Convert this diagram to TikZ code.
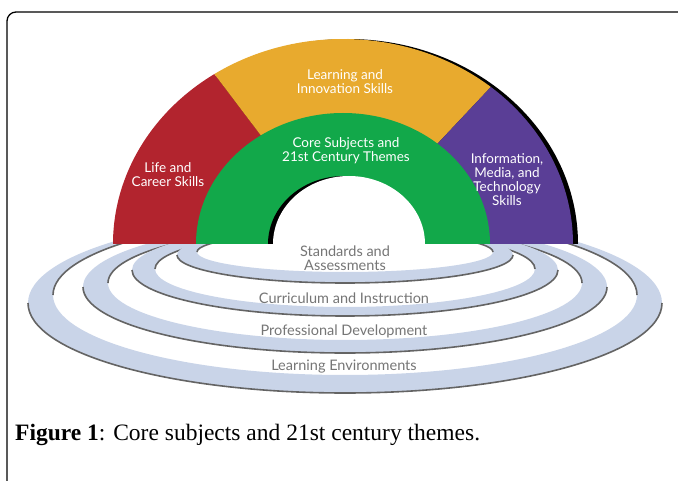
\documentclass[tikz,border=0pt]{standalone}
\usepackage{fontspec}
\setmainfont{Liberation Serif}
\newfontfamily\gillfont{Lato}

\definecolor{lifered}{RGB}{178,36,46}
\definecolor{learnyellow}{RGB}{232,170,46}
\definecolor{coregreen}{RGB}{18,168,74}
\definecolor{infopurple}{RGB}{90,62,150}
\definecolor{ringblue}{RGB}{201,212,232}
\definecolor{ringedge}{RGB}{100,100,100}
\definecolor{ringtext}{RGB}{118,118,118}

\begin{document}
\begin{tikzpicture}
  [x=1pt,y=1pt,
   arclabel/.style={text=white,align=center,inner sep=0pt,font=\gillfont\fontsize{13.5}{14}\selectfont},
   ringlabel/.style={text=ringtext,align=center,inner sep=0pt,font=\gillfont\fontsize{14.5}{14}\selectfont},
   ringline/.style={ringedge,line width=1.6pt}] % sizes are read off the 678x480 picture, y counted from the bottom

  \clip (0,0) rectangle (678,480);
  \fill[white] (0,0) rectangle (678,480);

  % the four flat rings, only the part in front of the arch
  \begin{scope}
    \clip (0,0) rectangle (678,240);
    \foreach \oy/\oa/\ob/\iy/\ia/\ib in {177/317/90/185/292/80, 193/262/66/197/237/57,
                                         210/213/46/211/190/38, 225/168/28/228/148/20}{
      \fill[ringblue,even odd rule] (345,\oy) ellipse[x radius=\oa,y radius=\ob]
                                    (345,\iy) ellipse[x radius=\ia,y radius=\ib];
      \draw[ringline] (345-\oa,\oy) arc[start angle=180,end angle=360,x radius=\oa,y radius=\ob];
      \draw[ringline] (345+\ia,\iy) arc[start angle=0,end angle=180,x radius=\ia,y radius=\ib];
    }
  \end{scope}

  % the arch
  \begin{scope}[shift={(343,236)}]
    \fill[black] (-225,0) arc[start angle=180,end angle=0,x radius=230,y radius=205] -- cycle;
    \fill[lifered] (0,0) -- (180:230 and 205) arc[start angle=180,end angle=124,x radius=230,y radius=205] -- cycle;
    \fill[learnyellow] (0,0) -- (124:230 and 205) arc[start angle=124,end angle=50,x radius=230,y radius=205] -- cycle;
    \fill[infopurple] (0,0) -- (50:230 and 205) arc[start angle=50,end angle=0,x radius=230,y radius=205] -- cycle;
    \fill[coregreen] (-147,0) arc[start angle=180,end angle=0,x radius=147,y radius=131] -- cycle;
    \fill[black] (-75,0) arc[start angle=180,end angle=0,x radius=76,y radius=68] -- cycle;
    \fill[white] (-70,0) arc[start angle=180,end angle=0,x radius=76,y radius=68] -- cycle;
  \end{scope}

  \node[arclabel] (learn) at (345,398) {Learning and\\Innovation Skills};
  \node[arclabel] (life) at (168,305) {Life and\\Career Skills};
  \node[arclabel] (core) at (346,329) {Core Subjects and\\21st Century Themes};
  \node[arclabel] (info) at (507,300) {Information,\\Media, and\\Technology\\Skills};

  \node[ringlabel] (stand) at (345,222) {Standards and\\Assessments};
  \node[ringlabel] (curr) at (344,182) {Curriculum and Instruction};
  \node[ringlabel] (prof) at (344,149) {Professional Development};
  \node[ringlabel] (env) at (344,113) {Learning Environments};

  \node[anchor=west,inner sep=0pt,font=\fontsize{23.5}{26}\selectfont] (caption) at (15,45)
    {\textbf{Figure 1}: Core subjects and 21st century themes.};

  % frame, open to the right and below
  \draw[line width=1.3pt,rounded corners=9pt] (690,468) -- (7,468) -- (7,-10);
\end{tikzpicture}
\end{document}
